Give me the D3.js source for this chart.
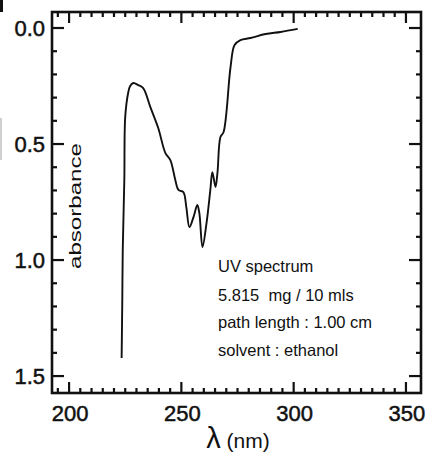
<!DOCTYPE html>
<html><head><meta charset="utf-8">
<script src="https://cdn.jsdelivr.net/npm/d3@7"></script>
<style>
body{margin:0;background:#fff;}
svg text{font-family:"Liberation Sans",Arial,Helvetica,sans-serif;fill:#111;white-space:pre;}
</style></head>
<body><svg id="c" width="435" height="458"></svg>
<script>
const wavelength = [223.4,223.7,223.9,224.6,225.0,226.3,227.2,228.6,230.8,233.0,236.2,239.7,242.9,245.1,247.3,248.7,250.9,252.2,253.6,255.4,257.1,258.0,259.4,261.2,262.9,263.8,265.2,266.1,267.4,268.8,271.9,273.7,276.3,280.8,287.5,294.2,301.8];
const absorbance = [1.422,1.172,0.957,0.655,0.384,0.280,0.250,0.237,0.246,0.259,0.341,0.431,0.539,0.569,0.655,0.698,0.707,0.772,0.858,0.815,0.763,0.797,0.944,0.841,0.698,0.621,0.685,0.621,0.470,0.448,0.168,0.073,0.052,0.043,0.026,0.017,0.004];
const xTickLabels = [200,250,300,350];
const yTickLabels = [0.0,0.5,1.0,1.5];
const annotation = ["UV spectrum","5.815  mg / 10 mls","path length : 1.00 cm","solvent : ethanol"];

const svg = d3.select("#c");
const L=52,R=421,T=12,B=393;
const x = d3.scaleLinear().domain([192.4,356.7]).range([L,R]);
const y = d3.scaleLinear().domain([-0.069,1.573]).range([T,B]);

const xMinor = d3.range(195,355,5);
const yMinor = d3.range(0,1.6,0.1).map(v=>+v.toFixed(1));

// artifacts at left edge of scan
svg.append("rect").attr("x",0).attr("y",0).attr("width",3).attr("height",12).attr("fill","#111");
svg.append("rect").attr("x",0).attr("y",118).attr("width",2).attr("height",42).attr("fill","#d0d0d0");

const tk = svg.append("g").attr("stroke","#111").attr("stroke-width",2.2);
xMinor.forEach(v=>{
  const major = xTickLabels.includes(v);
  const len = major?11:5;
  tk.append("line").attr("x1",x(v)).attr("x2",x(v)).attr("y1",B).attr("y2",B-len);
  tk.append("line").attr("x1",x(v)).attr("x2",x(v)).attr("y1",T).attr("y2",T+len);
});
yMinor.forEach(v=>{
  const major = yTickLabels.some(t=>Math.abs(t-v)<1e-6);
  const len = major?12:5;
  tk.append("line").attr("x1",L).attr("x2",L+len).attr("y1",y(v)).attr("y2",y(v));
  tk.append("line").attr("x1",R).attr("x2",R-len).attr("y1",y(v)).attr("y2",y(v));
});
// frame
svg.append("rect").attr("x",L).attr("y",T).attr("width",R-L).attr("height",B-T)
  .attr("fill","none").attr("stroke","#111").attr("stroke-width",2.6);

// tick labels
svg.append("g").selectAll("text").data(xTickLabels).join("text")
  .attr("x",d=>x(d)+1).attr("y",B+28).attr("text-anchor","middle")
  .attr("font-size",22).attr("stroke","#111").attr("stroke-width",0.5).text(d=>d);
svg.append("g").selectAll("text").data(yTickLabels).join("text")
  .attr("x",45).attr("y",d=>y(d)+8).attr("text-anchor","end")
  .attr("font-size",22).attr("stroke","#111").attr("stroke-width",0.5).text(d=>d.toFixed(1));

// axis titles
const xt = svg.append("text").attr("x",238).attr("y",448).attr("text-anchor","middle");
xt.append("tspan").attr("font-size",29).text("λ");
xt.append("tspan").attr("font-size",21).text(" (nm)");
svg.append("text").attr("transform","translate(81,206) rotate(-90)")
  .attr("text-anchor","middle").attr("font-size",16)
  .attr("textLength",126).attr("lengthAdjust","spacingAndGlyphs").text("absorbance");

// curve
const pts = wavelength.map((w,i)=>[w,absorbance[i]]);
svg.append("path").datum(pts)
  .attr("d",d3.line().x(d=>x(d[0])).y(d=>y(d[1])).curve(d3.curveCatmullRom.alpha(0.5)))
  .attr("fill","none").attr("stroke","#111").attr("stroke-width",1.9);

// annotation
svg.append("g").selectAll("text").data(annotation).join("text")
  .attr("x",218).attr("y",(d,i)=>[272,301,328,356][i])
  .attr("font-size",16.5).text(d=>d);
</script></body></html>
